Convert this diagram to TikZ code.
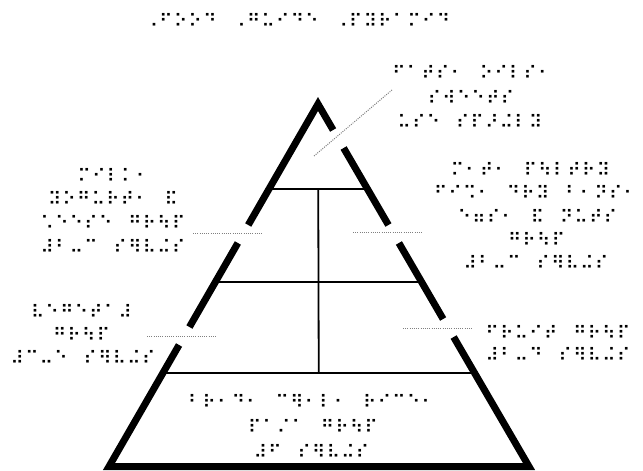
\documentclass[tikz,border=0pt]{standalone}
\usepackage{fontspec}
\newfontfamily\brfont{DejaVu Sans}
\usetikzlibrary{calc}
\newlength\brlpitch
\setlength\brlpitch{14.6pt}
\ExplSyntaxOn
\NewDocumentCommand\brl{m}{\tl_map_inline:nn {#1} {\makebox[\brlpitch][c]{##1}}}
\ExplSyntaxOff
\tikzset{
  br/.style={font=\brfont\fontsize{18}{18}\selectfont, inner sep=0pt, anchor=base},
  pyr/.style={line width=7pt, line join=miter, line cap=butt},
  tier/.style={line width=1.8pt},
  leader/.style={draw=gray, line width=1pt, dash pattern=on 1pt off 1.2pt},
}
\def\bc{6.5}
\begin{document}
\begin{tikzpicture}[x=1pt,y=-1pt]
\useasboundingbox[fill=white] (0,0) rectangle (643,471);
% pyramid geometry
\coordinate (A) at (318,104);
\coordinate (L) at (109,466.5);
\coordinate (R) at (529,466.5);
% tier lines
\coordinate (h1l) at ($(A)!0.2345!(L)$);
\coordinate (h1r) at ($(A)!0.2345!(R)$);
\coordinate (h2l) at ($(A)!0.491!(L)$);
\coordinate (h2r) at ($(A)!0.491!(R)$);
\coordinate (h3l) at ($(A)!0.742!(L)$);
\coordinate (h3r) at ($(A)!0.742!(R)$);
\coordinate (vtop) at ($(h1l)!0.5!(h1r)$);
\coordinate (vbot) at ($(h3l)!0.5!(h3r)$);
\draw[tier] (h1l) -- (h1r);
\draw[tier] (h2l) -- (h2r);
\draw[tier] (h3l) -- (h3r);
\draw[tier] (vtop) -- (vbot);
% gaps in the sides
\coordinate (Ra1) at ($(A)!0.0717!(R)$);
\coordinate (Ra2) at ($(A)!0.1214!(R)$);
\coordinate (Rb1) at ($(A)!0.3338!(R)$);
\coordinate (Rb2) at ($(A)!0.3834!(R)$);
\coordinate (Rc1) at ($(A)!0.5931!(R)$);
\coordinate (Rc2) at ($(A)!0.6428!(R)$);
\coordinate (La1) at ($(A)!0.3338!(L)$);
\coordinate (La2) at ($(A)!0.3834!(L)$);
\coordinate (Lb1) at ($(A)!0.6152!(L)$);
\coordinate (Lb2) at ($(A)!0.6648!(L)$);
\draw[pyr] (Ra1) -- (A) -- (La1);
\draw[pyr] (La2) -- (Lb1);
\draw[pyr] (Lb2) -- (L) -- (R) -- (Rc2);
\draw[pyr] (Rc1) -- (Rb2);
\draw[pyr] (Rb1) -- (Ra2);
% leaders
\coordinate (lt1) at (314,156); \coordinate (lt2) at (392,90);
\coordinate (l21) at (193,233.5); \coordinate (l22) at (262,233.5);
\coordinate (r21) at (353,232); \coordinate (r22) at (422,232);
\coordinate (l31) at (147,336); \coordinate (l32) at (217,336);
\coordinate (r31) at (403,328); \coordinate (r32) at (473,328);
\draw[leader] (lt1) -- (lt2);
\draw[leader] (l21) -- (l22);
\draw[leader] (r21) -- (r22);
\draw[leader] (l31) -- (l32);
\draw[leader] (r31) -- (r32);
% title
\node[br] (title) at (297.5,21+\bc) {\brl{⠠⠋⠕⠕⠙~⠠⠛⠥⠊⠙⠑~⠠⠏⠽⠗⠁⠍⠊⠙}};
% top label
\node[br] (t1) at (472,73+\bc) {\brl{⠋⠁⠞⠎⠂~⠕⠊⠇⠎⠂}};
\node[br] (t2) at (471,98+\bc) {\brl{⠎⠺⠑⠑⠞⠎}};
\node[br] (t3) at (470,122+\bc) {\brl{⠥⠎⠑~⠎⠏⠜⠬⠇⠽}};
% left second tier
\node[br] (a1) at (113.5,176+\bc) {\brl{⠍⠊⠇⠅⠂}};
\node[br] (a2) at (113,199+\bc) {\brl{⠽⠕⠛⠥⠗⠞⠂~⠯}};
\node[br] (a3) at (113,223+\bc) {\brl{⠡⠑⠑⠎⠑~⠛⠗⠳⠏}};
\node[br] (a4) at (113,247+\bc) {\brl{⠼⠃⠤⠉~⠎⠻⠧⠬⠎}};
% right second tier
\node[br] (b1) at (530.5,170+\bc) {\brl{⠍⠂⠞⠂~⠏⠳⠇⠞⠗⠽}};
\node[br] (b2) at (535.5,193+\bc) {\brl{⠋⠊⠩⠂~⠙⠗⠽~⠃⠂⠝⠎⠂}};
\node[br] (b3) at (537.5,217+\bc) {\brl{⠑⠶⠎⠂~⠯~⠝⠥⠞⠎}};
\node[br] (b4) at (536.5,240+\bc) {\brl{⠛⠗⠳⠏}};
\node[br] (b5) at (536,263+\bc) {\brl{⠼⠃⠤⠉~⠎⠻⠧⠬⠎}};
% left third tier
\node[br] (c1) at (81.5,312+\bc) {\brl{⠧⠑⠛⠑⠞⠁⠼}};
\node[br] (c2) at (81.5,335+\bc) {\brl{⠛⠗⠳⠏}};
\node[br] (c3) at (83,358+\bc) {\brl{⠼⠉⠤⠑~⠎⠻⠧⠬⠎}};
% right third tier
\node[br] (d1) at (558,333+\bc) {\brl{⠋⠗⠥⠊⠞~⠛⠗⠳⠏}};
\node[br] (d2) at (558,355+\bc) {\brl{⠼⠃⠤⠙~⠎⠻⠧⠬⠎}};
% base tier
\node[br] (e1) at (311.5,402+\bc) {\brl{⠃⠗⠂⠙⠂~⠉⠻⠂⠇⠂~⠗⠊⠉⠑⠂}};
\node[br] (e2) at (313,427+\bc) {\brl{⠏⠁⠌⠁~⠛⠗⠳⠏}};
\node[br] (e3) at (311.5,452+\bc) {\brl{⠼⠋~⠎⠻⠧⠬⠎}};
\end{tikzpicture}
\end{document}
